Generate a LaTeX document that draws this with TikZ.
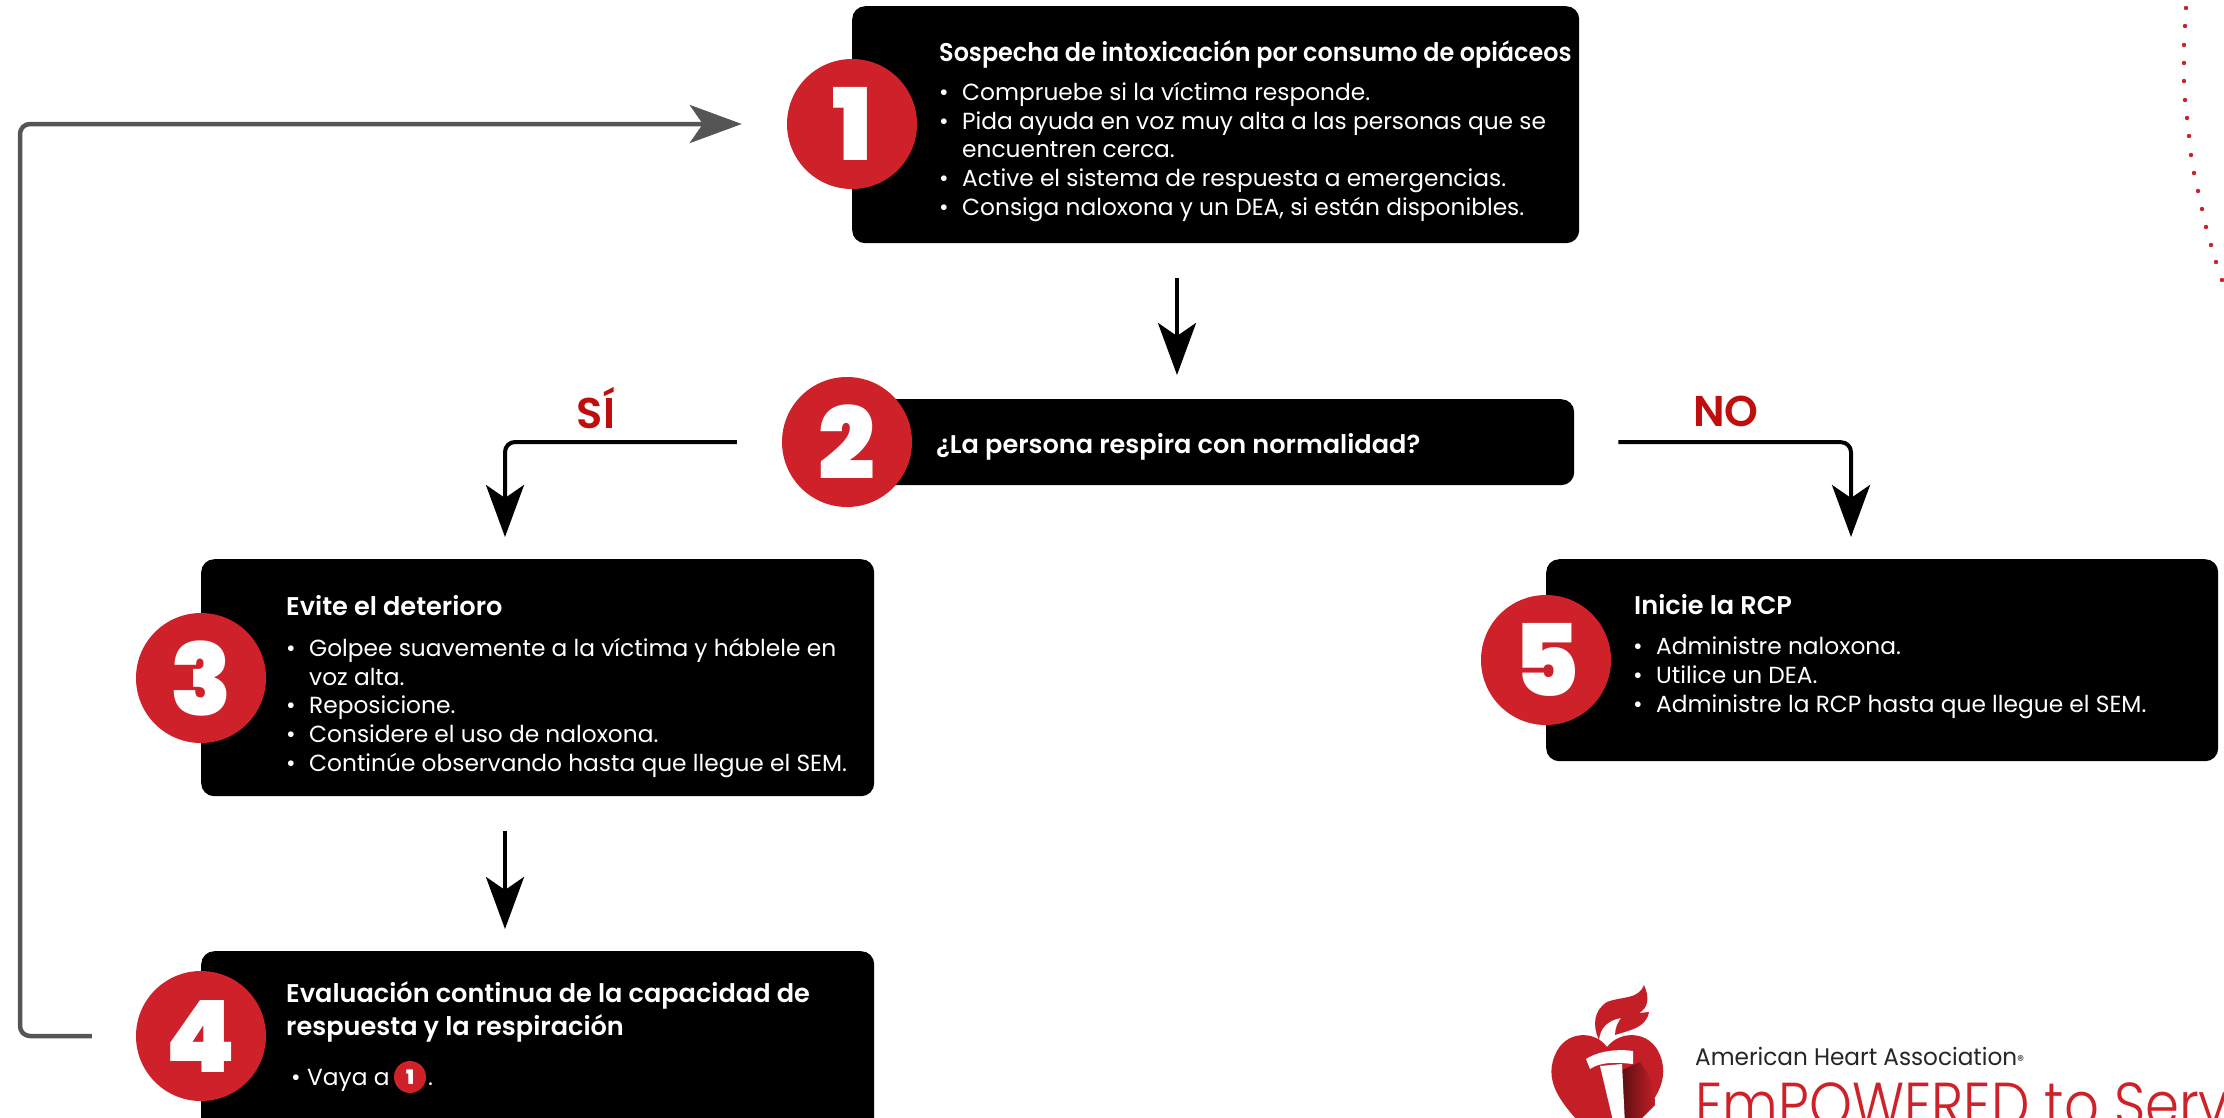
\documentclass[tikz,border=0pt]{standalone}
\usepackage{fontspec}
\setmainfont{Poppins}
\newfontfamily\numf{Poppins}[UprightFont=* Black]
\newfontfamily\lightf{Poppins}[UprightFont=* Light]
\newfontfamily\semif{Poppins}[UprightFont=* SemiBold]
\usetikzlibrary{arrows.meta}
\definecolor{ahared}{HTML}{CE2129}
\definecolor{labred}{HTML}{C00D0D}
\definecolor{loopgray}{HTML}{555555}
\newcommand{\itm}[1]{\makebox[23pt][l]{•}#1}
\newcommand{\cont}[1]{\hspace*{23pt}#1}
\tikzset{
  blackbox/.style={fill=black,rounded corners=13pt,inner sep=0pt,anchor=north west},
  badge/.style={circle,fill=ahared,inner sep=0pt,minimum size=130pt,text=white,font=\numf\fontsize{100}{100}\selectfont},
  titletext/.style={text=white,anchor=north west,inner sep=0pt,align=left,font=\semif\fontsize{25.6}{33}\selectfont},
  bodytext/.style={text=white,anchor=north west,inner sep=0pt,align=left,font=\fontsize{23.3}{28.7}\selectfont},
  flow/.style={draw=black,line width=4pt,rounded corners=10pt,-{Stealth[length=52pt,width=38pt,inset=13pt]}},
  loopflow/.style={draw=loopgray,line width=4.5pt,rounded corners=10pt,-{Stealth[length=52pt,width=38pt,inset=13pt]}},
  branch/.style={text=labred,font=\semif\fontsize{43}{43}\selectfont,inner sep=0pt},
  dot/.style={fill=ahared,draw=none},
}
\begin{document}
\begin{tikzpicture}[x=1pt,y=-1pt]
\useasboundingbox (0,0) rectangle (2224,1117);
\clip (0,0) rectangle (2224,1117);
% boxes
\node[blackbox,minimum width=727pt,minimum height=237pt] (box1) at (852,6) {};
\node[blackbox,minimum width=727pt,minimum height=86pt] (box2) at (847,399) {};
\node[blackbox,minimum width=673pt,minimum height=237pt] (box3) at (201,559) {};
\node[blackbox,minimum width=673pt,minimum height=190pt] (box4) at (201,951) {};
\node[blackbox,minimum width=672pt,minimum height=202pt] (box5) at (1546,559) {};
% badges
\node[badge] (cir1) at (852,124) {1};
\node[badge] (cir2) at (847,442) {2};
\node[badge] (cir3) at (201,678) {3};
\node[badge] (cir4) at (201,1036) {4};
\node[badge] (cir5) at (1546,660) {5};
% texts
\node[titletext] (t1) at (939,40) {\scalebox{0.933}[1]{Sospecha de intoxicación por consumo de opiáceos}};
\node[bodytext] (b1) at (939,82) {\itm{Compruebe si la víctima responde.}\\\itm{Pida ayuda en voz muy alta a las personas que se}\\\cont{encuentren cerca.}\\\itm{Active el sistema de respuesta a emergencias.}\\\itm{Consiga naloxona y un DEA, si están disponibles.}};
\node[titletext] (t2) at (936,433) {¿La persona respira con normalidad?};
\node[titletext] (t3) at (286,595) {Evite el deterioro};
\node[bodytext] (b3) at (286,638) {\itm{Golpee suavemente a la víctima y háblele en}\\\cont{voz alta.}\\\itm{Reposicione.}\\\itm{Considere el uso de naloxona.}\\\itm{Continúe observando hasta que llegue el SEM.}};
\node[titletext] (t4) at (286,981) {Evaluación continua de la capacidad de\\respuesta y la respiración};
\node[bodytext,anchor=base west] (b4) at (291,1085) {\makebox[16pt][l]{•}Vaya a};
\node[circle,fill=ahared,inner sep=0pt,minimum size=32pt,text=white,font=\numf\fontsize{20}{20}\selectfont] (mini) at (410,1077) {1};
\node[bodytext,anchor=base west] (b4dot) at (428,1085) {.};
\node[titletext] (t5) at (1634,594) {Inicie la RCP};
\node[bodytext] (b5) at (1633,637) {\itm{Administre naloxona.}\\\itm{Utilice un DEA.}\\\itm{Administre la RCP hasta que llegue el SEM.}};
% branch labels
\node[branch] (si) at (596,408) {SÍ};
\node[branch] (no) at (1726,411) {NO};
% connector guide coordinates
\coordinate (x12) at (1177,0);
\coordinate (x3) at (505,0);
\coordinate (x5) at (1851,0);
\coordinate (xl) at (20,0);
% connectors
\draw[flow,shorten <=35pt,shorten >=24pt] (box1.south -| x12) -- (box2.north -| x12);
\draw[flow,shorten <=45pt,shorten >=22pt] (cir2.west) -| (box3.north -| x3);
\draw[flow,shorten <=44pt,shorten >=22pt] (box2.east) -| (box5.north -| x5);
\draw[flow,shorten <=35pt,shorten >=22pt] (box3.south -| x3) -- (box4.north -| x3);
\draw[loopflow,shorten <=44pt,shorten >=45pt] (cir4.west) -- (cir4.west -| xl) -- (cir1.west -| xl) -- (cir1.west);
% dots
\foreach \dx/\dy in {2186/8,2185/26,2184/45,2184/63,2184/81,2185/100,2187/118,2189/136,2191/155,2194/173,2198/191,2202/209,2206/227,2211/245,2216/262,2222/280}
  \fill[dot] (\dx,\dy) circle (2.2pt);
% logo
\fill[ahared!95!black] (1607,1047) .. controls (1620,1030) and (1650,1030) .. (1660,1055) .. controls (1672,1085) and (1650,1110) .. (1607,1150) .. controls (1565,1110) and (1542,1085) .. (1555,1055) .. controls (1565,1030) and (1595,1030) .. (1607,1047) -- cycle;
\shade[left color=black!55!ahared,right color=ahared!95!black] (1622,1070) -- (1640,1062) .. controls (1650,1075) and (1655,1090) .. (1655,1105) -- (1625,1135) -- cycle;
\fill[white] (1600,1066) -- (1622,1064) -- (1625,1125) -- (1614,1125) -- cycle;
\fill[white] (1586,1059) .. controls (1600,1050) and (1620,1049) .. (1633,1051) -- (1633,1064) .. controls (1615,1062) and (1600,1062) .. (1590,1069) -- cycle;
\fill[ahared!95!black] (1644,985) .. controls (1650,998) and (1648,1008) .. (1639,1013) -- (1649,1012) .. controls (1646,1028) and (1630,1030) .. (1615,1035) .. controls (1615,1028) and (1618,1022) .. (1621,1018) .. controls (1608,1020) and (1600,1028) .. (1599,1040) .. controls (1592,1025) and (1594,1010) .. (1607,1002) .. controls (1622,996) and (1638,1000) .. (1644,985) -- cycle;
\node[inner sep=0pt,anchor=base west,text=black!85,font=\fontsize{24}{24}\selectfont] (aha) at (1695,1065) {\scalebox{0.965}[1]{American Heart Association}\fontsize{14}{14}\selectfont®};
\node[inner sep=0pt,anchor=base west,text=ahared,font=\lightf\fontsize{62}{62}\selectfont] (emp) at (1695,1126) {\scalebox{0.88}[1]{EmPOWERED to Serve}};
\end{tikzpicture}
\end{document}
